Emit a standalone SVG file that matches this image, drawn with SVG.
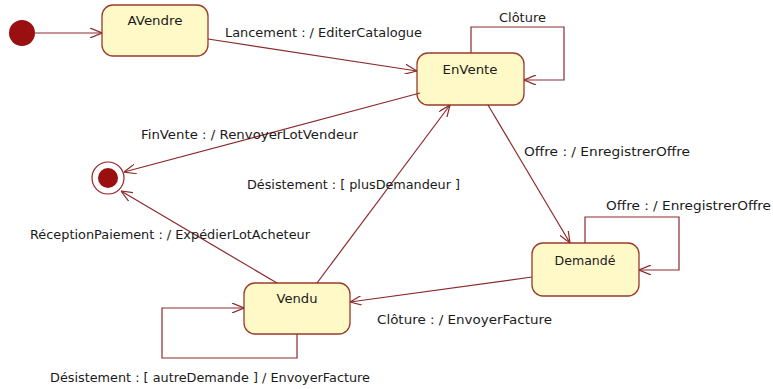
<svg xmlns="http://www.w3.org/2000/svg" width="773" height="389" viewBox="0 0 773 389">
  <style>
    .state rect { fill: #fff9c8; stroke: #9a3b2a; stroke-width: 1.3; }
    .name { font-family: "DejaVu Sans", "Liberation Sans", sans-serif; font-size: 13px; fill: #1a1a1a; text-anchor: middle; }
    .lbl { font-family: "DejaVu Sans", "Liberation Sans", sans-serif; font-size: 13px; fill: #1a1a1a; }
    .edge { fill: none; stroke: #8b2a2a; stroke-width: 1.2; marker-end: url(#open); }
  </style>
  <defs>
    <marker id="open" viewBox="0 0 12 10" refX="12" refY="5" markerWidth="12" markerHeight="10" markerUnits="userSpaceOnUse" orient="auto">
      <path d="M0,0 L12,5 L0,10" fill="none" stroke="#8b2a2a" stroke-width="1.2"/>
    </marker>
  </defs>
  <rect width="773" height="389" fill="#ffffff"/>

  <!-- pseudo states -->
  <g id="initial">
    <circle cx="22" cy="33" r="13" fill="#9a0f0f"/>
  </g>
  <g id="final">
    <circle cx="108" cy="178" r="16" fill="#ffffff" stroke="#9a1f1f" stroke-width="1.2"/>
    <circle cx="108" cy="178" r="10" fill="#9a0f0f"/>
  </g>

  <!-- states -->
  <g id="AVendre" class="state">
    <rect x="102" y="5" width="106" height="51" rx="11"/>
    <text class="name" x="155" y="25" textLength="55" lengthAdjust="spacingAndGlyphs">AVendre</text>
  </g>
  <g id="EnVente" class="state">
    <rect x="417" y="53" width="107" height="52" rx="11"/>
    <text class="name" x="470" y="74" textLength="55" lengthAdjust="spacingAndGlyphs">EnVente</text>
  </g>
  <g id="Demande" class="state">
    <rect x="532" y="243" width="107" height="53" rx="11"/>
    <text class="name" x="585" y="265" textLength="61" lengthAdjust="spacingAndGlyphs">Demandé</text>
  </g>
  <g id="Vendu" class="state">
    <rect x="244" y="283" width="106" height="51" rx="11"/>
    <text class="name" x="297" y="303" textLength="41" lengthAdjust="spacingAndGlyphs">Vendu</text>
  </g>

  <!-- transitions -->
  <g id="connectors">
    <path class="edge" d="M35,33 L102,33"/>
    <path class="edge" d="M208,39 L417,71"/>
    <path class="edge" d="M471,53 L471,27 L564,27 L564,80 L524,80"/>
    <path class="edge" d="M420,93 L124,172"/>
    <path class="edge" d="M488,105 L570,243"/>
    <path class="edge" d="M585,243 L585,217 L679,217 L679,270 L639,270"/>
    <path class="edge" d="M532,277 L350,302"/>
    <path class="edge" d="M317,283 L450,105"/>
    <path class="edge" d="M277,283 L121,191"/>
    <path class="edge" d="M297,334 L297,358 L162,358 L162,308 L244,308"/>
  </g>

  <!-- transition labels -->
  <g id="labels">
    <text class="lbl" x="225" y="37" textLength="197" lengthAdjust="spacingAndGlyphs">Lancement : / EditerCatalogue</text>
    <text class="lbl" x="499" y="22" textLength="47" lengthAdjust="spacingAndGlyphs">Clôture</text>
    <text class="lbl" x="141" y="139" textLength="217" lengthAdjust="spacingAndGlyphs">FinVente : / RenvoyerLotVendeur</text>
    <text class="lbl" x="524" y="156" textLength="166" lengthAdjust="spacingAndGlyphs">Offre : / EnregistrerOffre</text>
    <text class="lbl" x="247" y="189" textLength="213" lengthAdjust="spacingAndGlyphs">Désistement : [ plusDemandeur ]</text>
    <text class="lbl" x="606" y="210" textLength="165" lengthAdjust="spacingAndGlyphs">Offre : / EnregistrerOffre</text>
    <text class="lbl" x="30" y="239" textLength="280" lengthAdjust="spacingAndGlyphs">RéceptionPaiement : / ExpédierLotAcheteur</text>
    <text class="lbl" x="377" y="324" textLength="175" lengthAdjust="spacingAndGlyphs">Clôture : / EnvoyerFacture</text>
    <text class="lbl" x="50" y="382" textLength="320" lengthAdjust="spacingAndGlyphs">Désistement : [ autreDemande ] / EnvoyerFacture</text>
  </g>
</svg>
